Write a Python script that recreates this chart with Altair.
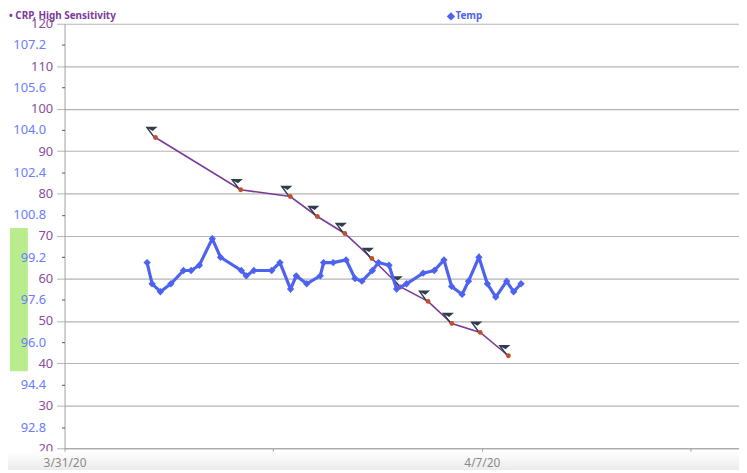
import altair as alt
import pandas as pd

# ---- data ----
crp_dates = ["2020-04-01T12:36", "2020-04-02T22:55", "2020-04-03T18:52", "2020-04-04T05:46",
             "2020-04-04T16:49", "2020-04-05T03:43", "2020-04-05T15:17", "2020-04-06T02:20",
             "2020-04-06T11:55", "2020-04-06T23:20", "2020-04-07T10:40"]
crp_values = [93.2, 80.9, 79.3, 74.6, 70.6, 64.7, 58.0, 54.6, 49.4, 47.3, 41.8]

temp_dates = ["2020-04-01T09:14", "2020-04-01T11:14", "2020-04-01T14:35", "2020-04-01T18:49",
              "2020-04-01T23:53", "2020-04-02T02:57", "2020-04-02T06:16", "2020-04-02T11:28",
              "2020-04-02T14:47", "2020-04-02T23:09", "2020-04-03T01:09", "2020-04-03T04:13",
              "2020-04-03T11:24", "2020-04-03T14:43", "2020-04-03T18:59", "2020-04-03T21:16",
              "2020-04-04T01:29", "2020-04-04T06:57", "2020-04-04T08:17", "2020-04-04T12:09",
              "2020-04-04T17:20", "2020-04-04T20:56", "2020-04-04T23:43", "2020-04-05T03:55",
              "2020-04-05T06:23", "2020-04-05T10:37", "2020-04-05T13:41", "2020-04-05T17:41",
              "2020-04-06T00:20", "2020-04-06T04:51", "2020-04-06T08:44", "2020-04-06T11:50",
              "2020-04-06T16:02", "2020-04-06T18:37", "2020-04-06T22:48", "2020-04-07T02:12",
              "2020-04-07T05:35", "2020-04-07T09:59", "2020-04-07T12:46", "2020-04-07T15:46"]
temp_values = [99.0, 98.2, 97.9, 98.2, 98.7, 98.7, 98.9, 99.9, 99.2, 98.7,
               98.5, 98.7, 98.7, 99.0, 98.0, 98.5, 98.2, 98.5, 99.0, 99.0,
               99.1, 98.4, 98.3, 98.7, 99.0, 98.9, 98.0, 98.2, 98.6, 98.7,
               99.1, 98.1, 97.8, 98.3, 99.2, 98.2, 97.7, 98.3, 97.9, 98.2]

normal_low = [94.9]
normal_high = [100.3]

crp_ticks = [20, 30, 40, 50, 60, 70, 80, 90, 100, 110, 120]
temp_ticks = [92.8, 94.4, 96.0, 97.6, 99.2, 100.8, 102.4, 104.0, 105.6, 107.2]

crp_df = pd.DataFrame({"date": crp_dates, "crp": crp_values})
temp_df = pd.DataFrame({"date": temp_dates, "temp": temp_values})
norm_df = pd.DataFrame({"lo": normal_low, "hi": normal_high})

# ---- styles ----
FONT = "Noto Sans"
CRP_LINE = "#7a3a9a"
CRP_DOT = "#c0502a"
CRP_LABEL = "#8a4e9a"
TEMP_BLUE = "#4d63f0"
TEMP_LABEL = "#6a7cff"
GRID = "#b4b4b4"
FLAG = "#2f3d4c"

x_enc = alt.X(
    "date:T",
    scale=alt.Scale(domain=[alt.DateTime(year=2020, month=3, date=31),
                            alt.DateTime(year=2020, month=4, date=11, hours=7, minutes=30)],
                    nice=False),
    axis=alt.Axis(
        title=None,
        values=[alt.DateTime(year=2020, month=3, date=31),
                alt.DateTime(year=2020, month=4, date=3, hours=12),
                alt.DateTime(year=2020, month=4, date=7),
                alt.DateTime(year=2020, month=4, date=10, hours=12)],
        format="%-m/%-d/%y",
        labelExpr="hours(datum.value) == 0 ? datum.label : ''",
        labelFlush=False,
        labelColor="#8a8a8a", labelFont=FONT, labelFontSize=12,
        domainColor="#a0a0a0", tickColor="#a0a0a0", tickSize=3,
        labelPadding=6, grid=False, zindex=1,
    ),
)

crp_y = alt.Y(
    "crp:Q",
    scale=alt.Scale(domain=[20, 120], nice=False, zero=False),
    axis=alt.Axis(
        title=None, orient="left", values=crp_ticks, grid=True, gridColor=GRID,
        gridWidth=1.2, tickColor=GRID, tickSize=8, labelPadding=4,
        domainColor="#a0a0a0", labelColor=CRP_LABEL, labelFont=FONT,
        labelFontSize=13, zindex=0,
    ),
)

temp_axis = alt.Axis(
    title=None, orient="left", values=temp_ticks, format=".1f", grid=False,
    domain=False, tickColor="#555555", tickSize=3, labelPadding=16,
    labelColor=TEMP_LABEL, labelFont=FONT, labelFontSize=13, zindex=1,
)
temp_scale = alt.Scale(domain=[92, 108], nice=False, zero=False)

# ---- background band below the x axis ----
band = alt.Chart(alt.Data(values=[{}])).mark_rect(
    color=alt.Gradient(gradient="linear", x1=0, x2=0, y1=0, y2=1,
                       stops=[alt.GradientStop(color="#ffffff", offset=0),
                              alt.GradientStop(color="#e9e9e9", offset=1)])
).encode(x=alt.value(-57), x2=alt.value(690), y=alt.value(431), y2=alt.value(452))

# ---- CRP layer ----
crp_line = alt.Chart(crp_df).mark_line(color=CRP_LINE, strokeWidth=1.6).encode(x=x_enc, y=crp_y)
flag_path = "M -1 -0.8 L 1 -0.8 L 0.2 -0.1 Z M -1 -0.8 L -0.7 -0.8 L 0.6 0.95 L 0.3 0.95 Z"
crp_flags = alt.Chart(crp_df).mark_point(
    shape=flag_path, filled=True, color=FLAG, size=150, opacity=1, xOffset=-4, yOffset=-6
).encode(x=x_enc, y=crp_y)
crp_pts = alt.Chart(crp_df).mark_circle(color=CRP_DOT, size=24, opacity=1).encode(x=x_enc, y=crp_y)

legend_crp = alt.Chart(alt.Data(values=[{}])).mark_text(
    align="left", baseline="middle", font=FONT, fontSize=10, fontWeight="bold", color=CRP_LINE
).encode(x=alt.value(-56), y=alt.value(-8), text=alt.value("• CRP, High Sensitivity"))
legend_temp = alt.Chart(alt.Data(values=[{}])).mark_text(
    align="left", baseline="middle", font=FONT, fontSize=10, fontWeight="bold", color=TEMP_BLUE
).encode(x=alt.value(386), y=alt.value(-8), text=alt.value("◆Temp"))

crp_layer = alt.layer(band, crp_line, crp_flags, crp_pts, legend_crp, legend_temp)

# ---- Temp layer ----
norm_rect = alt.Chart(norm_df).mark_rect(color="#b8ec8c").encode(
    x=alt.value(-55), x2=alt.value(-37),
    y=alt.Y("lo:Q", scale=temp_scale, axis=temp_axis), y2="hi:Q",
)
temp_line = alt.Chart(temp_df).mark_line(color=TEMP_BLUE, strokeWidth=3.2).encode(
    x=x_enc, y=alt.Y("temp:Q", scale=temp_scale, axis=temp_axis))
temp_pts = alt.Chart(temp_df).mark_point(
    shape="diamond", filled=True, color=TEMP_BLUE, size=55, opacity=1
).encode(x=x_enc, y=alt.Y("temp:Q", scale=temp_scale, axis=temp_axis))

temp_layer = alt.layer(norm_rect, temp_line, temp_pts)

chart = alt.layer(crp_layer, temp_layer).resolve_scale(y="independent").properties(
    width=680, height=428,
    autosize=alt.AutoSizeParams(type="none"),
    padding={"left": 57, "top": 14, "right": 0, "bottom": 20},
).configure_view(stroke=None)

chart.save("out.html", embed_options={"renderer": "svg", "actions": False})
